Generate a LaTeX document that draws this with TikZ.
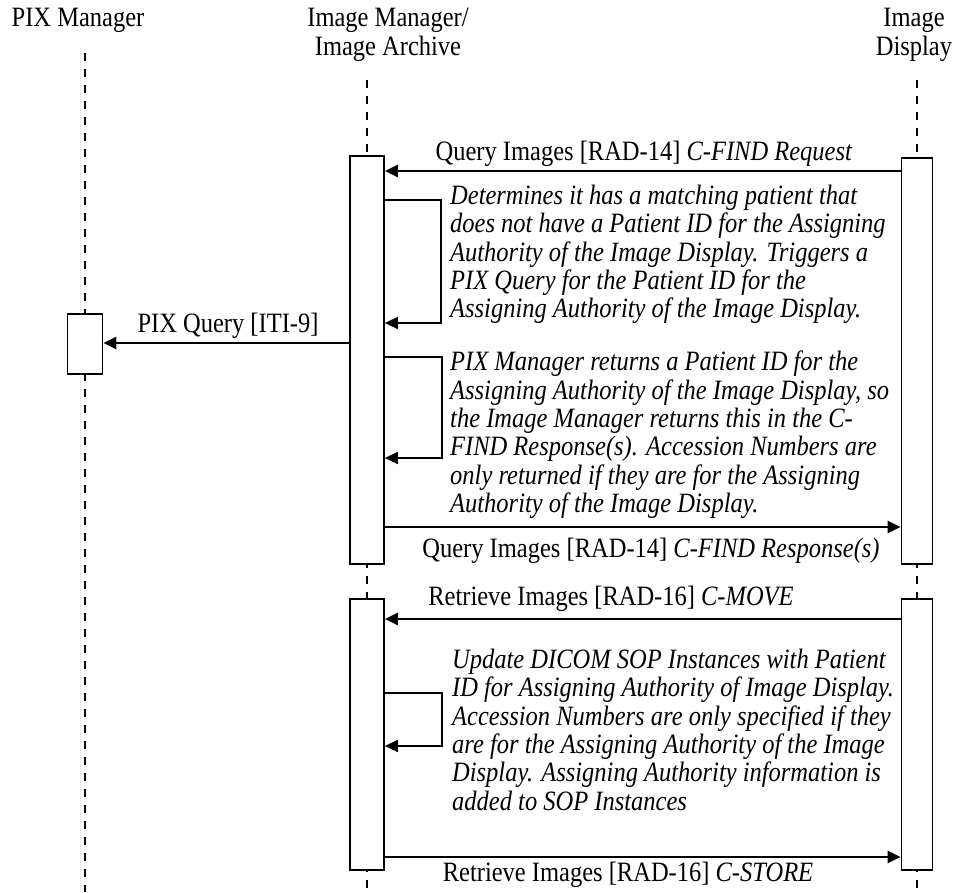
\documentclass[tikz,border=0pt]{standalone}
\usepackage{fontspec}
\setmainfont{Liberation Serif}[FakeStretch=0.875]
\usetikzlibrary{arrows.meta,positioning}

\begin{document}
\begin{tikzpicture}[x=1pt, y=-1pt,
    actor/.style={font=\fontsize{28}{29}\selectfont, inner sep=0pt, align=center, anchor=north},
    lifeline/.style={line width=1.2pt, dash pattern=on 8pt off 8pt},
    actbox/.style={draw, fill=white, line width=1.7pt, inner sep=0pt, anchor=north},
    msg/.style={line width=2.4pt, -{Triangle[length=13pt, width=12pt]}},
    selfmsg/.style={line width=1.4pt, -{Triangle[length=13pt, width=12pt]}},
    lbl/.style={font=\fontsize{28}{28.3}\selectfont, inner sep=0pt},
    note/.style={font=\fontsize{28}{28.3}\selectfont\itshape, inner sep=0pt, align=left, anchor=north west}
]
    \fill[white] (0,0) rectangle (953,892);
    \useasboundingbox (0,0) rectangle (953,892);

    % Actors
    \node[actor] (pixMgr) at (78,8) {PIX Manager};
    \node[actor] (imgMgr) at (388,8) {Image Manager/\\Image Archive};
    \node[actor] (imgDisp) at (914,8) {Image\\Display};

    % Lifelines
    \coordinate (pixTop) at (85,53);
    \coordinate (mgrTop) at (367,80);
    \coordinate (dispTop) at (917,80);
    \draw[lifeline] (pixTop) -- (pixTop |- 0,892);
    \draw[lifeline] (mgrTop) -- (mgrTop |- 0,892);
    \draw[lifeline] (dispTop) -- (dispTop |- 0,892);

    % Activation boxes
    \node[actbox, minimum width=35pt, minimum height=60pt] (pixA) at (85,313) {};
    \node[actbox, minimum width=34pt, minimum height=408pt] (mgrA) at (367,155) {};
    \node[actbox, minimum width=31pt, minimum height=406pt] (dispA) at (917,157) {};
    \node[actbox, minimum width=34pt, minimum height=271pt] (mgrB) at (367,598) {};
    \node[actbox, minimum width=31pt, minimum height=271pt] (dispB) at (917,598) {};

    % Query
    \draw[msg] (dispA.west |- 0,171) -- (mgrA.east |- 0,171);
    \node[lbl] (qReq) at (644,154) {Query Images [RAD-14] \textit{C-FIND Request}};

    \node[note] (note1) at (450,185) {Determines it has a matching patient that\\
        does not have a Patient ID for the Assigning\\
        Authority of the Image Display. Triggers a\\
        PIX Query for the Patient ID for the\\
        Assigning Authority of the Image Display.};
    \draw[selfmsg] (mgrA.east |- 0,200) -- (441,200) -- (441,323) -- (mgrA.east |- 0,323);

    % PIX query
    \draw[msg] (mgrA.west |- 0,343) -- (pixA.east |- 0,343);
    \node[lbl] (pixQ) at (228,326) {PIX Query [ITI-9]};

    \node[note] (note2) at (450,351) {PIX Manager returns a Patient ID for the\\
        Assigning Authority of the Image Display, so\\
        the Image Manager returns this in the C-\\
        FIND Response(s). Accession Numbers are\\
        only returned if they are for the Assigning\\
        Authority of the Image Display.};
    \draw[selfmsg] (mgrA.east |- 0,357) -- (442,357) -- (442,458) -- (mgrA.east |- 0,458);

    % Query response
    \draw[msg] (mgrA.east |- 0,527) -- (dispA.west |- 0,527);
    \node[lbl] (qResp) at (651,551) {Query Images [RAD-14] \textit{C-FIND Response(s)}};

    % Retrieve
    \draw[msg] (dispB.west |- 0,619) -- (mgrB.east |- 0,619);
    \node[lbl] (cMove) at (611,599) {Retrieve Images [RAD-16] \textit{C-MOVE}};

    \node[note] (note3) at (452,649) {Update DICOM SOP Instances with Patient\\
        ID for Assigning Authority of Image Display.\\
        Accession Numbers are only specified if they\\
        are for the Assigning Authority of the Image\\
        Display. Assigning Authority information is\\
        added to SOP Instances};
    \draw[selfmsg] (mgrB.east |- 0,693) -- (442,693) -- (442,746) -- (mgrB.east |- 0,746);

    \draw[msg] (mgrB.east |- 0,857) -- (dispB.west |- 0,857);
    \node[lbl] (cStore) at (628,875) {Retrieve Images [RAD-16] \textit{C-STORE}};
\end{tikzpicture}
\end{document}
